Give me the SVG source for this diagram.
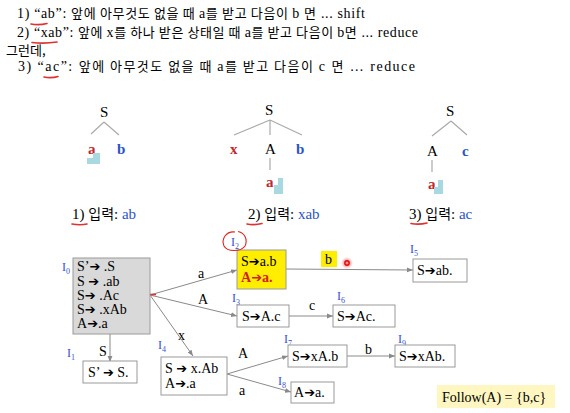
<svg xmlns="http://www.w3.org/2000/svg" width="570" height="413" viewBox="0 0 570 413">
<defs>
<marker id="ah" viewBox="0 0 10 10" refX="10" refY="5" markerWidth="6" markerHeight="6" orient="auto" markerUnits="userSpaceOnUse"><path d="M0,1 L10,5 L0,9 z" fill="#8a8a8a"/></marker>
<radialGradient id="glow"><stop offset="0.3" stop-color="#ff4040" stop-opacity="0.6"/><stop offset="1" stop-color="#ff4040" stop-opacity="0"/></radialGradient>
</defs>
<style>
text{font-family:"Liberation Serif","Noto Sans CJK KR",serif;fill:#000}
.top{font-size:14px}
.ko{font-family:"Noto Sans CJK KR","Liberation Serif",sans-serif;font-size:13px}
.tr{font-size:15px}
.red{fill:#c0282d}
.blue{fill:#2a55c8}
.lab{fill:#3a4fd6;font-size:12px}
.sub{font-size:8px}
.bx{font-size:14px}
.ar{font-family:"DejaVu Sans",sans-serif;font-size:13px}
.el{font-size:14px}
.tl{stroke:#aaaaaa;stroke-width:1.2;fill:none}
.box{fill:#ffffff;stroke:#999999;stroke-width:1}
.ed{stroke:#8a8a8a;stroke-width:1;fill:none;marker-end:url(#ah)}
.ul{stroke:#e03030;stroke-width:1.6;fill:none;stroke-linecap:round}
.cur{fill:#a8d8e0}
</style>

<g id="intro">
<text class="top" x="17" y="18" textLength="348" lengthAdjust="spacing">1) “ab”:  <tspan class="ko">앞에 아무것도 없을 때 </tspan>a<tspan class="ko">를 받고 다음이 </tspan>b <tspan class="ko">면</tspan> ... shift</text>
<text class="top" x="17" y="37" textLength="401" lengthAdjust="spacing">2) “xab”: <tspan class="ko">앞에 </tspan>x<tspan class="ko">를 하나 받은 상태일 때 </tspan>a<tspan class="ko">를 받고 다음이 </tspan>b<tspan class="ko">면</tspan> ... reduce</text>
<text class="top" x="6" y="55"><tspan class="ko">그런데,</tspan></text>
<text class="top" x="18" y="71" textLength="397" lengthAdjust="spacing">3)  “ac”: <tspan class="ko">앞에 아무것도 없을 때 </tspan>a<tspan class="ko">를 받고 다음이 </tspan>c <tspan class="ko">면</tspan> … reduce</text>
<path class="ul" d="M31,24 Q39,25.5 47,23.5"/>
<path class="ul" d="M32,42.5 Q44,44 57,42"/>
<path class="ul" d="M44,77 Q51,78.5 58,76.5"/>
</g>

<g id="tree1">
<text class="tr" x="100" y="117">S</text>
<path class="tl" d="M104,122 L91,134 M104,122 L119,135"/>
<text class="tr red" x="88" y="154" font-weight="bold">a</text>
<text class="tr blue" x="117" y="154" font-weight="bold">b</text>
<path class="cur" d="M93,153 H100 V164 H87 V158 H93 z"/>
<text class="tr" x="72" y="219">1) <tspan class="ko" style="font-size:14px">입력</tspan>: <tspan class="blue">ab</tspan></text>
<path class="ul" d="M72,224 Q80,225.5 87,224"/>
</g>

<g id="tree2">
<text class="tr" x="265" y="115">S</text>
<path class="tl" d="M270,120 L234,135 M270,120 L270,135 M270,120 L302,135 M270,158 L270,170"/>
<text class="tr red" x="230" y="154" font-weight="bold">x</text>
<text class="tr" x="265" y="154">A</text>
<text class="tr blue" x="296" y="154" font-weight="bold">b</text>
<text class="tr red" x="266" y="187" font-weight="bold">a</text>
<path class="cur" d="M278,178 H283 V194 H274 V185 H278 z"/>
<text class="tr" x="248" y="219">2) <tspan class="ko" style="font-size:14px">입력</tspan>: <tspan class="blue">xab</tspan></text>
<path class="ul" d="M247,224 Q254,225.5 262,223.5"/>
</g>

<g id="tree3">
<text class="tr" x="446" y="116">S</text>
<path class="tl" d="M451,121 L432,136 M451,121 L467,135 M432,160 L432,172"/>
<text class="tr" x="427" y="156">A</text>
<text class="tr blue" x="462" y="156" font-weight="bold">c</text>
<text class="tr red" x="428" y="189" font-weight="bold">a</text>
<path class="cur" d="M438,180 H443 V194 H434 V187 H438 z"/>
<text class="tr" x="409" y="219">3) <tspan class="ko" style="font-size:14px">입력</tspan>: <tspan class="blue">ac</tspan></text>
<path class="ul" d="M411,223.5 Q419,225 427,223"/>
</g>

<g id="edges">
<path class="ed" d="M150,295 L237,270"/>
<path class="ed" d="M150,295 L237,316"/>
<path class="ed" d="M150,295 L193,356"/>
<path class="ed" d="M110,334 L110,362"/>
<path class="ed" d="M286,269 L413,270"/>
<path class="ed" d="M289,316 L333,316"/>
<path class="ed" d="M227,374 L288,356"/>
<path class="ed" d="M227,374 L291,392"/>
<path class="ed" d="M347,356 L395,356"/>
<path d="M150,294.5 L156,294.5" stroke="#e03030" stroke-width="1.6"/>
<text class="el" x="198" y="278">a</text>
<text class="el" x="198" y="304">A</text>
<text class="el" x="178" y="340">x</text>
<text class="el" x="99" y="356">S</text>
<rect x="321" y="251" width="16" height="16" fill="#ffee00"/>
<text class="el" x="325" y="264">b</text>
<text class="el" x="309" y="310">c</text>
<text class="el" x="238" y="358">A</text>
<text class="el" x="239" y="395">a</text>
<text class="el" x="365" y="354">b</text>
</g>

<g id="I0">
<rect x="73" y="258" width="77" height="76" fill="#d9d9d9" stroke="#9a9a9a"/>
<text class="lab" x="62" y="271">I<tspan class="sub" dy="3">0</tspan></text>
<text class="bx" x="77" y="271">S’<tspan class="ar">➔</tspan> .S</text>
<text class="bx" x="77" y="286">S <tspan class="ar">➔</tspan> .ab</text>
<text class="bx" x="77" y="300">S<tspan class="ar">➔</tspan> .Ac</text>
<text class="bx" x="77" y="314">S<tspan class="ar">➔</tspan> .xAb</text>
<text class="bx" x="77" y="328">A<tspan class="ar">➔</tspan>.a</text>
</g>

<g id="I1">
<text class="lab" x="67" y="357">I<tspan class="sub" dy="3">1</tspan></text>
<rect class="box" x="83" y="361" width="54" height="22"/>
<text class="bx" x="88" y="377">S’ <tspan class="ar">➔</tspan> S.</text>
</g>

<g id="I2">
<rect x="237" y="250" width="49" height="39" fill="#ffee00" stroke="#9a9a9a"/>
<text class="lab" x="231" y="246">I<tspan class="sub" dy="3">2</tspan></text>
<path d="M235,232 C226,231 221,239 224,246 C227,252 241,252 245,246 C248,240 245,233 238,231.5" stroke="#e02020" stroke-width="1.1" fill="none"/>
<text class="bx" x="241" y="266">S<tspan class="ar">➔</tspan>a.b</text>
<text class="bx" x="241" y="282" font-weight="bold" style="fill:#d42020">A<tspan class="ar" style="fill:#d42020">➔</tspan>a.</text>
</g>

<g id="I3">
<text class="lab" x="232" y="302">I<tspan class="sub" dy="3">3</tspan></text>
<rect class="box" x="237" y="305" width="52" height="22"/>
<text class="bx" x="242" y="321">S<tspan class="ar">➔</tspan>A.c</text>
</g>

<g id="I4">
<text class="lab" x="158" y="349">I<tspan class="sub" dy="3">4</tspan></text>
<rect class="box" x="161" y="357" width="66" height="38"/>
<text class="bx" x="165" y="373">S <tspan class="ar">➔</tspan> x.Ab</text>
<text class="bx" x="165" y="388">A<tspan class="ar">➔</tspan>.a</text>
</g>

<g id="I5">
<text class="lab" x="410" y="253">I<tspan class="sub" dy="3">5</tspan></text>
<rect class="box" x="413" y="259" width="54" height="23"/>
<text class="bx" x="417" y="275">S<tspan class="ar">➔</tspan>ab.</text>
</g>

<g id="I6">
<text class="lab" x="337" y="300">I<tspan class="sub" dy="3">6</tspan></text>
<rect class="box" x="333" y="305" width="62" height="22"/>
<text class="bx" x="337" y="321">S<tspan class="ar">➔</tspan>Ac.</text>
</g>

<g id="I7">
<text class="lab" x="284" y="343">I<tspan class="sub" dy="3">7</tspan></text>
<rect class="box" x="288" y="345" width="59" height="22"/>
<text class="bx" x="292" y="361">S<tspan class="ar">➔</tspan>xA.b</text>
</g>

<g id="I8">
<text class="lab" x="278" y="385">I<tspan class="sub" dy="3">8</tspan></text>
<rect class="box" x="291" y="382" width="43" height="21"/>
<text class="bx" x="294" y="397">A<tspan class="ar">➔</tspan>a.</text>
</g>

<g id="I9">
<text class="lab" x="398" y="343">I<tspan class="sub" dy="3">9</tspan></text>
<rect class="box" x="395" y="345" width="60" height="22"/>
<text class="bx" x="399" y="361">S<tspan class="ar">➔</tspan>xAb.</text>
</g>

<g id="follow">
<rect x="437" y="385" width="118" height="23" fill="#fff6c2"/>
<text class="bx" x="442" y="402">Follow(A) = {b,c}</text>
</g>

<g id="pointer">
<circle cx="347" cy="263" r="6" fill="url(#glow)"/>
<circle cx="347" cy="263" r="2.2" fill="none" stroke="#e01010" stroke-width="1.4"/>
</g>
</svg>
